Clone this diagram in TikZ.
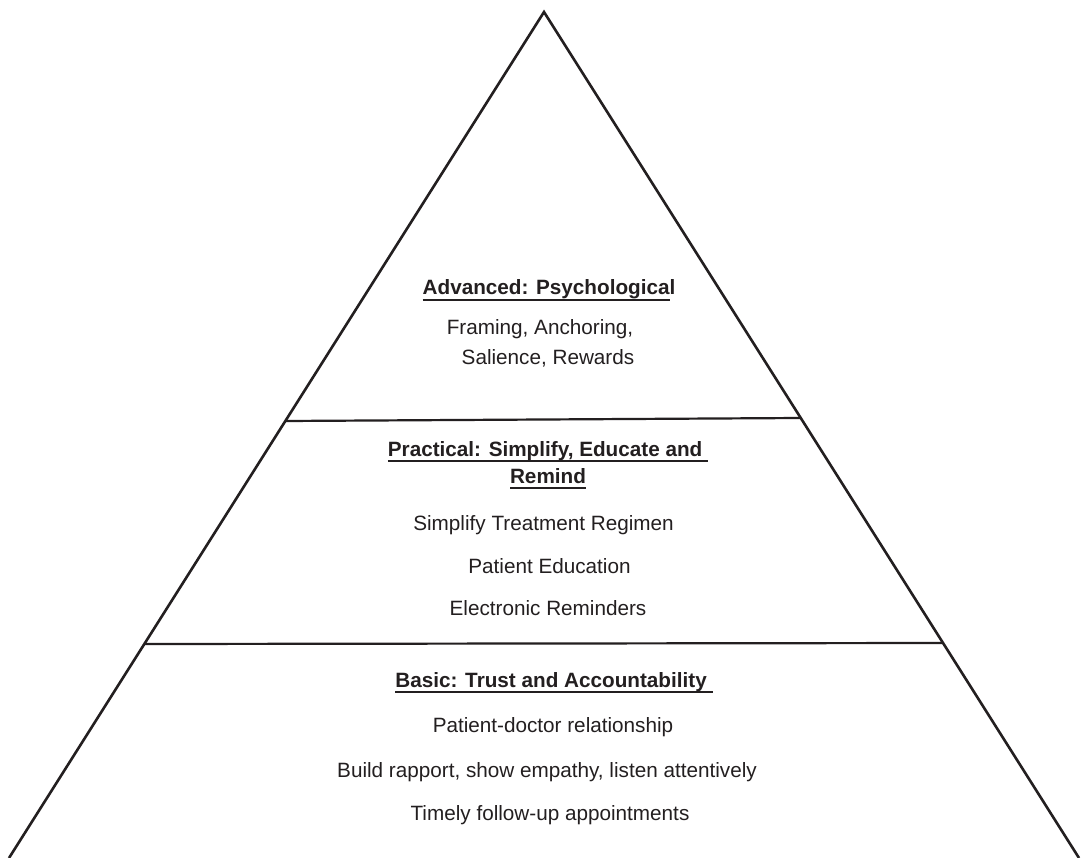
\documentclass[tikz,border=0pt]{standalone}
\usepackage{fontspec}
\setmainfont{Liberation Sans}
\definecolor{ink}{HTML}{231F20}
\newsavebox\ulbox
\newcommand\myul[1]{\sbox\ulbox{#1}\rlap{\rule[-6pt]{\wd\ulbox}{2.4pt}}\usebox\ulbox}
\tikzset{
  edge/.style={draw=ink, line width=2.6pt, line cap=butt, line join=miter},
  divider/.style={draw=ink, line width=2.2pt},
  txt/.style={anchor=base, inner sep=0pt, text=ink, font=\fontsize{20.7}{24}\selectfont},
  head/.style={txt, font=\fontsize{20.7}{24}\selectfont\bfseries},
}
\begin{document}
\begin{tikzpicture}[x=1pt, y=-1pt]
\useasboundingbox (0,0) rectangle (1081,858);
\fill[white] (0,0) rectangle (1081,858);
% triangle
\coordinate (apex) at (544,12);
\coordinate (bl) at (9,858);
\coordinate (br) at (1079,858);
\draw[edge] (bl) -- (apex) -- (br);
% dividers
\coordinate (d1l) at (285.5,421);
\coordinate (d1r) at (800.6,418);
\coordinate (d2l) at (144.6,644);
\coordinate (d2r) at (942.8,643);
\draw[divider] (d1l) -- (d1r);
\draw[divider] (d2l) -- (d2r);
% top section
\node[head] (advh) at (549,295) {\myul{Advanced: Psychologica}l};
\node[txt] (adv1) at (540,335) {Framing, Anchoring,};
\node[txt] (adv2) at (548,364) {Salience, Rewards};
% middle section
\node[head] (prah1) at (548,456) {\myul{Practical: Simplify, Educate and\ }};
\node[head] (prah2) at (548,483) {\myul{Remind}};
\node[txt] (pra1) at (543.5,530) {Simplify Treatment Regimen};
\node[txt] (pra2) at (549.5,573) {Patient Education};
\node[txt] (pra3) at (548,615) {Electronic Reminders};
% bottom section
\node[head] (bash) at (554,687) {\myul{Basic: Trust and Accountability\ }};
\node[txt] (bas1) at (553,732) {Patient-doctor relationship};
\node[txt] (bas2) at (547,777) {Build rapport, show empathy, listen attentively};
\node[txt] (bas3) at (550,820) {Timely follow-up appointments};
\end{tikzpicture}
\end{document}
